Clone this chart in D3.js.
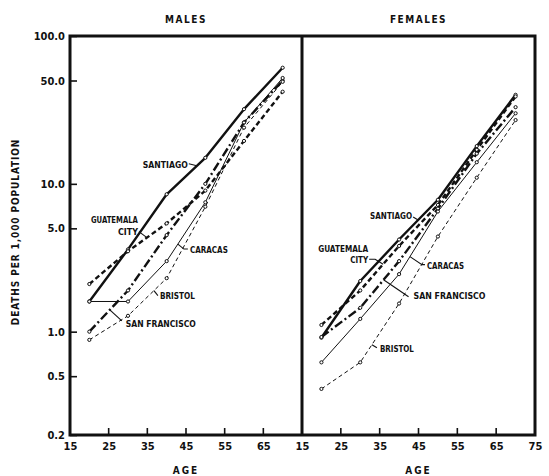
<!DOCTYPE html>
<html><head><meta charset="utf-8">
<script src="https://cdn.jsdelivr.net/npm/d3@7"></script>
<style>
body{margin:0;background:#fff;}
text{font-family:"DejaVu Sans Condensed","DejaVu Sans",sans-serif;font-stretch:condensed;font-weight:bold;fill:#111;}
</style></head><body>
<svg id="c" width="549" height="476"></svg>
<script>
// ---------- data ----------
const ages = [20, 30, 40, 50, 60, 70];
const yTickValues = [100, 50, 10, 5, 1, 0.5, 0.2];
const xTickLabelsMale = [15, 25, 35, 45, 55, 65];
const xTickLabelsFemale = [15, 25, 35, 45, 55, 65, 75];
const cities = ["SANTIAGO", "GUATEMALA CITY", "SAN FRANCISCO", "CARACAS", "BRISTOL"];

const maleSantiago      = [1.6, 3.6, 8.5, 15, 32, 61];
const maleGuatemala     = [2.1, 3.5, 5.4, 9.0, 19.5, 42];
const maleSanFrancisco  = [1.0, 1.9, 4.5, 10, 26, 50];
const maleCaracas       = [1.6, 1.6, 3.0, 7.5, 26, 52];
const maleBristol       = [0.88, 1.28, 2.3, 7.0, 24, 49];

const femaleSantiago     = [0.91, 2.2, 4.2, 7.8, 18, 40];
const femaleGuatemala    = [1.11, 1.9, 3.8, 7.2, 17, 39];
const femaleSanFrancisco = [0.92, 1.45, 3.0, 6.8, 16, 33];
const femaleCaracas      = [0.62, 1.22, 2.45, 6.5, 14, 30];
const femaleBristol      = [0.41, 0.62, 1.55, 4.4, 11, 27];

// ---------- styles ----------
const styles = {
  "SANTIAGO":       {w: 2.4, dash: null},
  "GUATEMALA CITY": {w: 2.4, dash: "5,3"},
  "SAN FRANCISCO":  {w: 2.4, dash: "9,3,2,3"},
  "CARACAS":        {w: 1.0, dash: null},
  "BRISTOL":        {w: 1.0, dash: "4,3"}
};

const svg = d3.select("#c");
const topY = 36, bottomY = 435;
const y = d3.scaleLog().domain([0.2, 100]).range([bottomY, topY]);
const xM = d3.scaleLinear().domain([15, 75]).range([70, 302]);
const xF = d3.scaleLinear().domain([15, 75]).range([302, 535]);

const panels = [
  {x: xM, title: "MALES", ticks: xTickLabelsMale,
   data: [maleSantiago, maleGuatemala, maleSanFrancisco, maleCaracas, maleBristol],
   notes: [
     {c: 0, age: 47.8, leader: [[0,0],[-8,-2]], lines: [["SANTIAGO", -9, 2]], anchor: "end", tl: 45},
     {c: 1, age: 34.9, leader: [[0,0],[-8,-6]], lines: [["GUATEMALA", -9, -15], ["CITY", -9, -3]], anchor: "end", tl: [47, 20]},
     {c: 3, age: 42.9, leader: [[0,0],[6,5],[10,5]], lines: [["CARACAS", 12, 9]], anchor: "start", tl: 38},
     {c: 4, age: 36.7, leader: [[0,0],[4,5]], lines: [["BRISTOL", 6, 8]], anchor: "start", tl: 35},
     {c: 2, age: 25.3, leader: [[0,0],[12,11]], lines: [["SAN FRANCISCO", 16, 17]], anchor: "start", tl: 70}
   ]},
  {x: xF, title: "FEMALES", ticks: xTickLabelsFemale,
   data: [femaleSantiago, femaleGuatemala, femaleSanFrancisco, femaleCaracas, femaleBristol],
   notes: [
     {c: 0, age: 44.9, leader: [[0,0],[-5,-3]], lines: [["SANTIAGO", -6, -1]], anchor: "end", tl: 42},
     {c: 1, age: 35.9, leader: [[0,0],[-8,-5],[-14,-5]], lines: [["GUATEMALA", -15, -12], ["CITY", -15, -1]], anchor: "end", tl: [50, 18]},
     {c: 3, age: 42.8, leader: [[0,0],[12,8],[15,8]], lines: [["CARACAS", 17, 12]], anchor: "start", tl: 37},
     {c: 2, age: 36.0, leader: [[0,0],[25,17]], lines: [["SAN FRANCISCO", 30, 19]], anchor: "start", tl: 72},
     {c: 4, age: 33.0, leader: [[0,0],[5,3]], lines: [["BRISTOL", 8, 7]], anchor: "start", tl: 34}
   ]}
];

function valueAt(vals, age) {
  const i = Math.max(0, Math.min(ages.length - 2, Math.floor((age - ages[0]) / 10)));
  const t = (age - ages[i]) / (ages[i+1] - ages[i]);
  return Math.exp(Math.log(vals[i]) * (1 - t) + Math.log(vals[i+1]) * t);
}

panels.forEach(p => {
  const g = svg.append("g");
  p.data.forEach((vals, ci) => {
    const st = styles[cities[ci]];
    const line = d3.line().x((d, i) => p.x(ages[i])).y(d => y(d));
    g.append("path").datum(vals).attr("d", line)
      .attr("fill", "none").attr("stroke", "#111").attr("stroke-width", st.w)
      .attr("stroke-dasharray", st.dash).attr("stroke-linejoin", "round");
    g.selectAll(null).data(vals).enter().append("circle")
      .attr("cx", (d, i) => p.x(ages[i])).attr("cy", d => y(d))
      .attr("r", 1.6).attr("fill", "#fff").attr("stroke", "#111").attr("stroke-width", 1);
  });
  p.notes.forEach(n => {
    const px = p.x(n.age), py = y(valueAt(p.data[n.c], n.age));
    g.append("path")
      .attr("d", d3.line()(n.leader.map(d => [px + d[0], py + d[1]])))
      .attr("fill", "none").attr("stroke", "#111").attr("stroke-width", 1.1);
    n.lines.forEach((l, k) => {
      const tl = Array.isArray(n.tl) ? n.tl[k] : n.tl;
      g.append("text").attr("x", px + l[1]).attr("y", py + l[2])
        .attr("text-anchor", n.anchor).attr("font-size", 8)
        .attr("textLength", tl).attr("lengthAdjust", "spacingAndGlyphs")
        .text(l[0]);
    });
  });
  const xa = d3.axisBottom(p.x).tickValues(p.ticks).tickSize(0).tickPadding(7)
    .tickFormat(d3.format("d"));
  const ax = svg.append("g").attr("transform", `translate(0,${bottomY})`).call(xa);
  ax.select(".domain").remove();
  ax.selectAll("text").attr("font-size", 11).attr("font-family", null);
  svg.append("g").selectAll("line").data(p.ticks.filter(t => t > 15 && t < 75)).enter()
    .append("line").attr("x1", d => p.x(d)).attr("x2", d => p.x(d))
    .attr("y1", bottomY).attr("y2", bottomY - 7).attr("stroke", "#111").attr("stroke-width", 1.6);
  const cx = (p.x.range()[0] + p.x.range()[1]) / 2;
  svg.append("text").attr("x", cx).attr("y", 23).attr("text-anchor", "middle")
    .attr("font-size", 10).attr("letter-spacing", 1.5).text(p.title);
  svg.append("text").attr("x", cx).attr("y", 474).attr("text-anchor", "middle")
    .attr("font-size", 10).attr("letter-spacing", 2).text("AGE");
});

const ya = d3.axisLeft(y).tickValues(yTickValues).tickSize(-7).tickPadding(5)
  .tickFormat(d3.format(".1f"));
const yg = svg.append("g").attr("transform", `translate(${xM.range()[0]},0)`).call(ya);
yg.select(".domain").remove();
yg.selectAll("line").attr("stroke", "#111").attr("stroke-width", 1.6);
yg.selectAll("text").attr("font-size", 11).attr("font-family", null);

svg.append("rect").attr("x", xM.range()[0]).attr("y", topY)
  .attr("width", xF.range()[1] - xM.range()[0]).attr("height", bottomY - topY)
  .attr("fill", "none").attr("stroke", "#111").attr("stroke-width", 3);
svg.append("line").attr("x1", xF.range()[0]).attr("x2", xF.range()[0])
  .attr("y1", topY).attr("y2", bottomY).attr("stroke", "#111").attr("stroke-width", 3);

svg.append("text").attr("transform", "translate(19,232) rotate(-90)")
  .attr("text-anchor", "middle").attr("font-size", 10).attr("letter-spacing", 0.9)
  .text("DEATHS PER 1,000 POPULATION");
</script></body></html>
